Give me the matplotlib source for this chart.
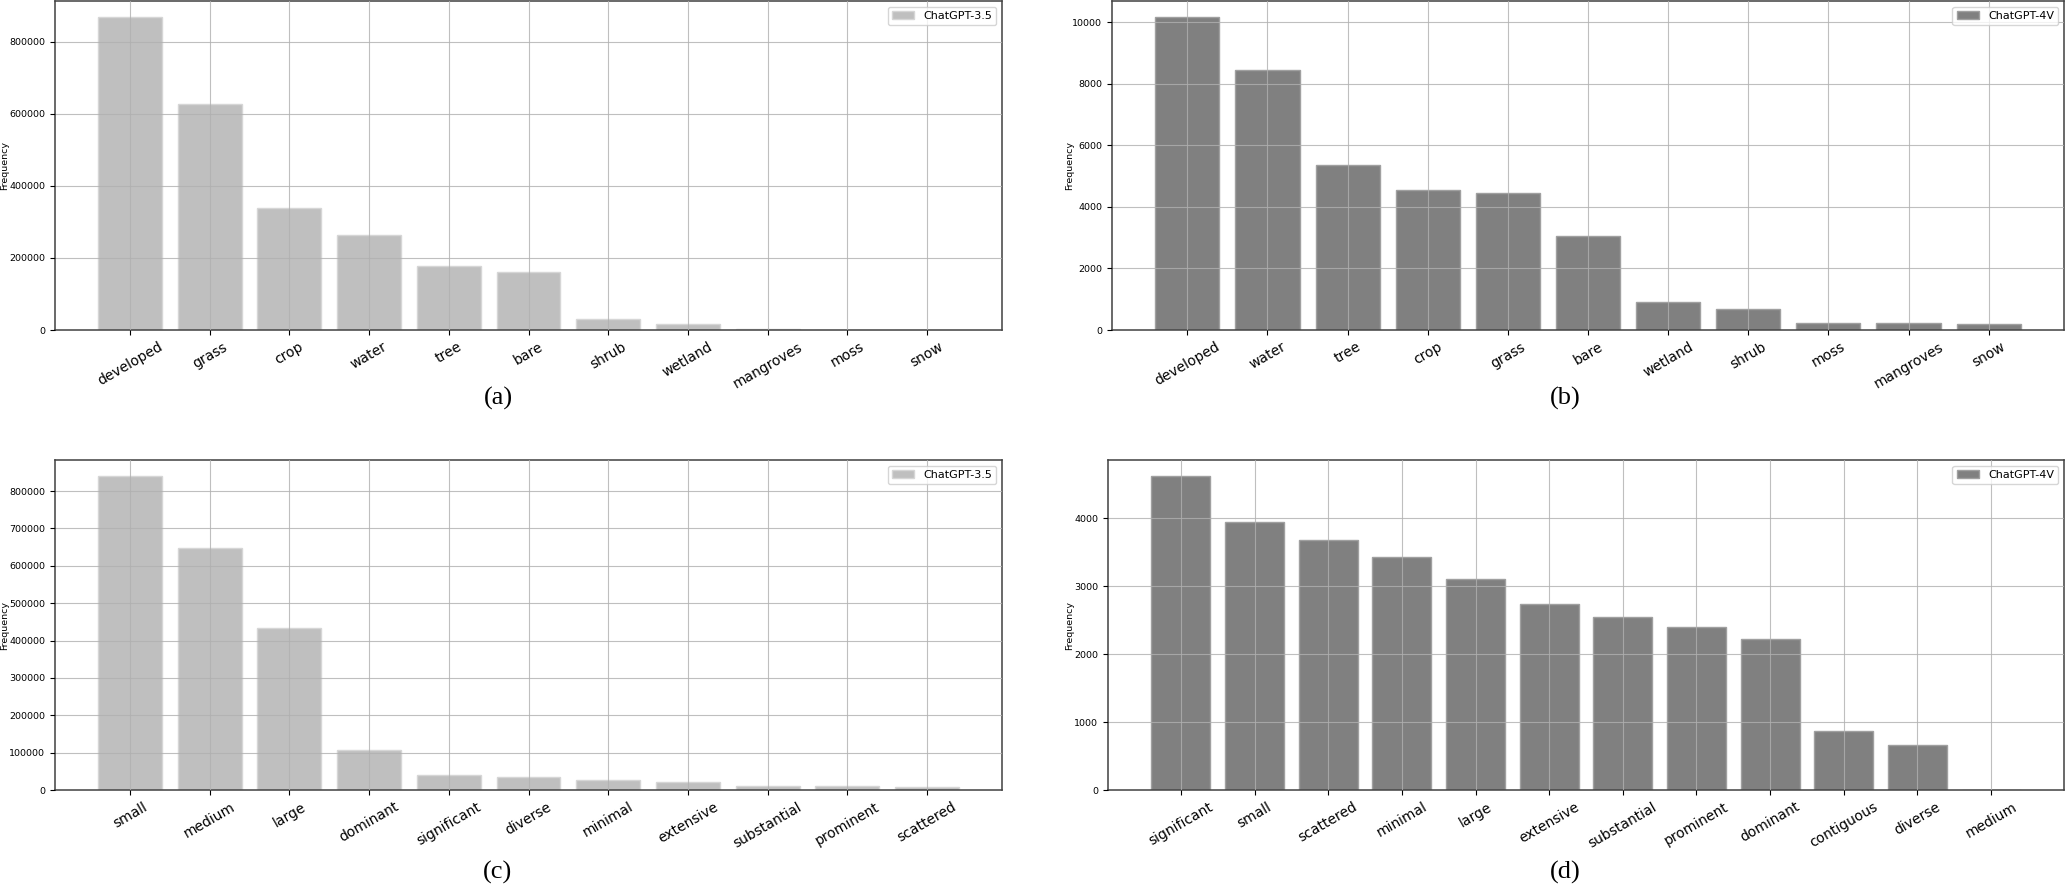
"""
Word frequency bars: ChatGPT-3.5 vs ChatGPT-4V (land cover classes and descriptors)
"""
import numpy as np
import matplotlib.pyplot as plt

# (a) land cover words, ChatGPT-3.5
a_labels = ['developed', 'grass', 'crop', 'water', 'tree', 'bare', 'shrub',
            'wetland', 'mangroves', 'moss', 'snow']
a_values = [870000, 627000, 338000, 265000, 179000, 160000, 30600, 15800, 2000, 600, 400]

# (b) land cover words, ChatGPT-4V
b_labels = ['developed', 'water', 'tree', 'crop', 'grass', 'bare', 'wetland',
            'shrub', 'moss', 'mangroves', 'snow']
b_values = [10180, 8450, 5350, 4540, 4450, 3060, 920, 690, 225, 225, 205]

# (c) descriptor words, ChatGPT-3.5
c_labels = ['small', 'medium', 'large', 'dominant', 'significant', 'diverse',
            'minimal', 'extensive', 'substantial', 'prominent', 'scattered']
c_values = [841000, 647500, 433500, 107000, 39000, 36000, 27500, 20500, 10500, 9800, 8000]

# (d) descriptor words, ChatGPT-4V
d_labels = ['significant', 'small', 'scattered', 'minimal', 'large', 'extensive',
            'substantial', 'prominent', 'dominant', 'contiguous', 'diverse', 'medium']
d_values = [4630, 3955, 3690, 3435, 3105, 2740, 2547, 2400, 2218, 866, 670, 5]

W, H = 2067, 888
fig = plt.figure(figsize=(W / 100, H / 100), dpi=100)


def px_box(left, top, right, bottom):
    # pixel box -> figure fraction
    return [left / W, 1 - bottom / H, (right - left) / W, (bottom - top) / H]


# labels, values, legend, face, edge, (left, top, right, bottom) px, tag, tag pos px, ylabel right edge px
panels = [
    (a_labels, a_values, 'ChatGPT-3.5', '#bfbfbf', '#d6d6d6', (55, 1, 1002, 330), '(a)', (498, 398), 9),
    (b_labels, b_values, 'ChatGPT-4V', '#808080', '#a0a0a0', (1112, 1, 2064, 330), '(b)', (1565, 398), 1074),
    (c_labels, c_values, 'ChatGPT-3.5', '#bfbfbf', '#d6d6d6', (55, 460, 1002, 790), '(c)', (498, 872), 9),
    (d_labels, d_values, 'ChatGPT-4V', '#808080', '#a0a0a0', (1108, 460, 2064, 790), '(d)', (1565, 872), 1074),
]

for labels, values, model, color, edge, box, tag, (tx, ty), ylab_x in panels:
    ax = fig.add_axes(px_box(*box))
    x = np.arange(len(labels))
    ax.bar(x, values, width=0.8, color=color, edgecolor=edge, linewidth=1.0, label=model)

    ax.set_xticks(x)
    ax.set_xticklabels(labels, rotation=30, fontsize=10)
    ax.tick_params(axis='y', labelsize=6.8)
    ax.set_ylabel('Frequency', fontsize=6.8)
    ax.yaxis.set_label_coords((ylab_x - box[0]) / (box[2] - box[0]), 0.5)

    # grid drawn over the bars, as in the original
    ax.set_axisbelow(False)
    ax.grid(True, color='#b0b0b0', linewidth=0.8, alpha=0.8)

    for sp in ax.spines.values():
        sp.set_color('#404040')
        sp.set_linewidth(1.1)

    ax.legend(loc='upper right', fontsize=8)

    fig.text(tx / W, 1 - ty / H, tag, ha='center', va='center',
             fontsize=19, family='Liberation Serif')

plt.savefig('out.png', dpi=100, facecolor='white')
plt.close()
print("Saved: out.png")
